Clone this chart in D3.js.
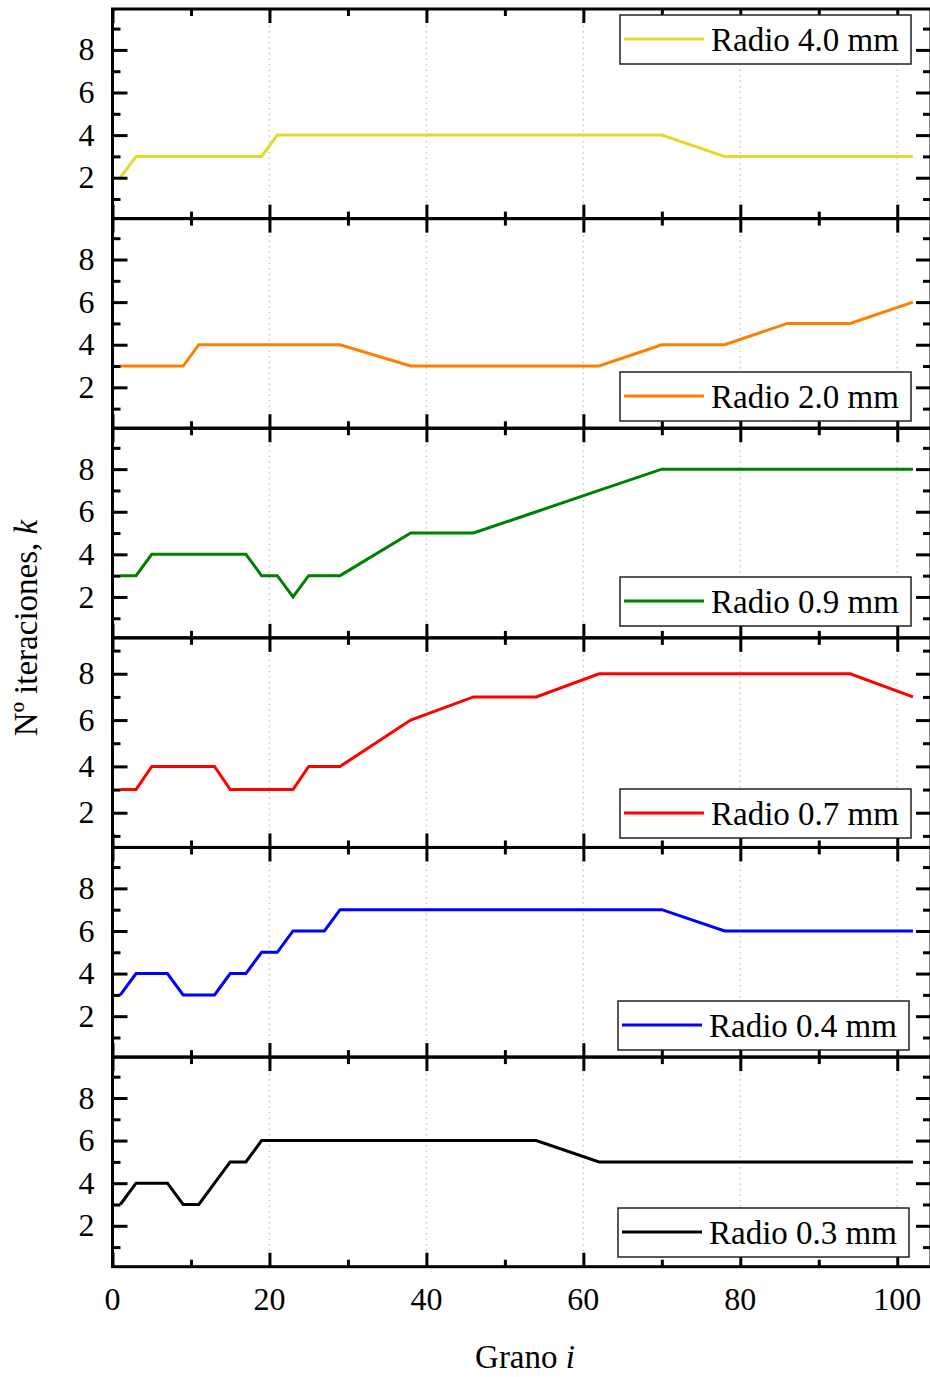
<!DOCTYPE html>
<html>
<head>
<meta charset="utf-8">
<script src="https://cdn.jsdelivr.net/npm/d3@7"></script>
<style>
  html, body { margin: 0; padding: 0; background: #fff; }
  svg { display: block; }
  text { font-family: "Liberation Serif", "Times New Roman", serif; fill: #000; }
</style>
</head>
<body>
<svg id="chart" width="930" height="1377"></svg>
<script>
// Grain index (x) shared by every series
const grano = [1, 3, 5, 7, 9, 11, 13, 15, 17, 19, 21, 23, 25, 27, 29, 38, 46, 54, 62, 70, 78, 86, 94, 102];

// Number of iterations k for each grain radius
const radio40 = [2, 3, 3, 3, 3, 3, 3, 3, 3, 3, 4, 4, 4, 4, 4, 4, 4, 4, 4, 4, 3, 3, 3, 3];
const radio20 = [3, 3, 3, 3, 3, 4, 4, 4, 4, 4, 4, 4, 4, 4, 4, 3, 3, 3, 3, 4, 4, 5, 5, 6];
const radio09 = [3, 3, 4, 4, 4, 4, 4, 4, 4, 3, 3, 2, 3, 3, 3, 5, 5, 6, 7, 8, 8, 8, 8, 8];
const radio07 = [3, 3, 4, 4, 4, 4, 4, 3, 3, 3, 3, 3, 4, 4, 4, 6, 7, 7, 8, 8, 8, 8, 8, 7];
const radio04 = [3, 4, 4, 4, 3, 3, 3, 4, 4, 5, 5, 6, 6, 6, 7, 7, 7, 7, 7, 7, 6, 6, 6, 6];
const radio03 = [3, 4, 4, 4, 3, 3, 4, 5, 5, 6, 6, 6, 6, 6, 6, 6, 6, 6, 5, 5, 5, 5, 5, 5];

const labels = ["Radio 4.0 mm", "Radio 2.0 mm", "Radio 0.9 mm", "Radio 0.7 mm", "Radio 0.4 mm", "Radio 0.3 mm"];
const colors = ["#e6d92b", "#ff8000", "#008000", "#ff0000", "#0000ff", "#000000"];

// Axis ticks
const xMajor = [0, 20, 40, 60, 80, 100];
const xMinor = [10, 30, 50, 70, 90];
const yMajor = [2, 4, 6, 8];
const yMinor = [1, 3, 5, 7, 9];

// Layout
const plotLeft = 112.5, plotRight = 931, plotTop = 9, plotBottom = 1266.7;
const nPanels = 6;
const panelH = (plotBottom - plotTop) / nPanels;
const yDomains = [[0.08, 9.92], [0.08, 9.92], [0.08, 9.92], [0.5, 9.55], [0.08, 9.92], [0.08, 9.92]];
const legendPos = [[620, 15], [620, 372], [620, 577], [620, 789], [618, 1001], [618, 1208]];

const series = [radio40, radio20, radio09, radio07, radio04, radio03];

const svg = d3.select("#chart");
const x = d3.scaleLinear().domain([0, 104.3]).range([plotLeft, plotRight]);

function styleAxis(g, width) {
  g.select(".domain").remove();
  g.selectAll(".tick line").attr("stroke", "#000").attr("stroke-width", width);
}

series.forEach((vals, i) => {
  const y0 = plotTop + i * panelH, y1 = y0 + panelH;
  const y = d3.scaleLinear().domain(yDomains[i]).range([y1, y0]);
  const g = svg.append("g");

  // dotted vertical grid
  g.append("g").selectAll("line").data([20, 40, 60, 80, 100]).join("line")
    .attr("x1", d => x(d)).attr("x2", d => x(d))
    .attr("y1", y0).attr("y2", y1)
    .attr("stroke", "#c8c8c8").attr("stroke-width", 1.5)
    .attr("stroke-dasharray", "1.5,4");

  // series line
  const line = d3.line().x((d, j) => x(grano[j])).y(d => y(d));
  g.append("path").datum(vals)
    .attr("d", line)
    .attr("fill", "none")
    .attr("stroke", colors[i])
    .attr("stroke-width", 3)
    .attr("stroke-linejoin", "miter");

  // inward ticks on all four sides
  const tickSets = [
    [d3.axisLeft(y).tickValues(yMajor).tickSize(-15).tickFormat(""), `translate(${plotLeft},0)`],
    [d3.axisLeft(y).tickValues(yMinor).tickSize(-8).tickFormat(""), `translate(${plotLeft},0)`],
    [d3.axisRight(y).tickValues(yMajor).tickSize(-15).tickFormat(""), `translate(${plotRight},0)`],
    [d3.axisRight(y).tickValues(yMinor).tickSize(-8).tickFormat(""), `translate(${plotRight},0)`],
    [d3.axisBottom(x).tickValues(xMajor).tickSize(-14).tickFormat(""), `translate(0,${y1})`],
    [d3.axisBottom(x).tickValues(xMinor).tickSize(-7).tickFormat(""), `translate(0,${y1})`],
    [d3.axisTop(x).tickValues(xMajor).tickSize(-14).tickFormat(""), `translate(0,${y0})`],
    [d3.axisTop(x).tickValues(xMinor).tickSize(-7).tickFormat(""), `translate(0,${y0})`]
  ];
  tickSets.forEach(([ax, tr]) => {
    const a = g.append("g").attr("transform", tr).call(ax);
    styleAxis(a, 3);
  });

  // y tick labels
  g.append("g").selectAll("text").data(yMajor).join("text")
    .attr("x", plotLeft - 18).attr("y", d => y(d)).attr("dy", "0.33em")
    .attr("text-anchor", "end").attr("font-size", 32)
    .text(d => d);

  // panel frame
  g.append("rect")
    .attr("x", plotLeft).attr("y", y0)
    .attr("width", plotRight - plotLeft).attr("height", panelH)
    .attr("fill", "none").attr("stroke", "#000").attr("stroke-width", 3);

  // legend
  const [lx, ly] = legendPos[i];
  const lg = g.append("g").attr("transform", `translate(${lx},${ly})`);
  lg.append("rect").attr("width", 291).attr("height", 49)
    .attr("fill", "#fff").attr("stroke", "#222").attr("stroke-width", 1.5);
  lg.append("line").attr("x1", 4).attr("x2", 84).attr("y1", 24).attr("y2", 24)
    .attr("stroke", colors[i]).attr("stroke-width", 3);
  lg.append("text").attr("x", 91).attr("y", 35.5)
    .attr("font-size", 33).text(labels[i]);
});

// x tick labels under the bottom panel
svg.append("g").selectAll("text").data(xMajor).join("text")
  .attr("x", d => x(d)).attr("y", plotBottom + 43)
  .attr("text-anchor", "middle").attr("font-size", 32)
  .text(d => d);

// axis titles
const xt = svg.append("text")
  .attr("x", 525).attr("y", 1368)
  .attr("text-anchor", "middle").attr("font-size", 33);
xt.append("tspan").text("Grano ");
xt.append("tspan").attr("font-style", "italic").text("i");

const yt = svg.append("text")
  .attr("transform", "translate(37,628) rotate(-90)")
  .attr("text-anchor", "middle").attr("font-size", 33);
yt.append("tspan").text("Nº iteraciones, ");
yt.append("tspan").attr("font-style", "italic").text("k");
</script>
</body>
</html>
